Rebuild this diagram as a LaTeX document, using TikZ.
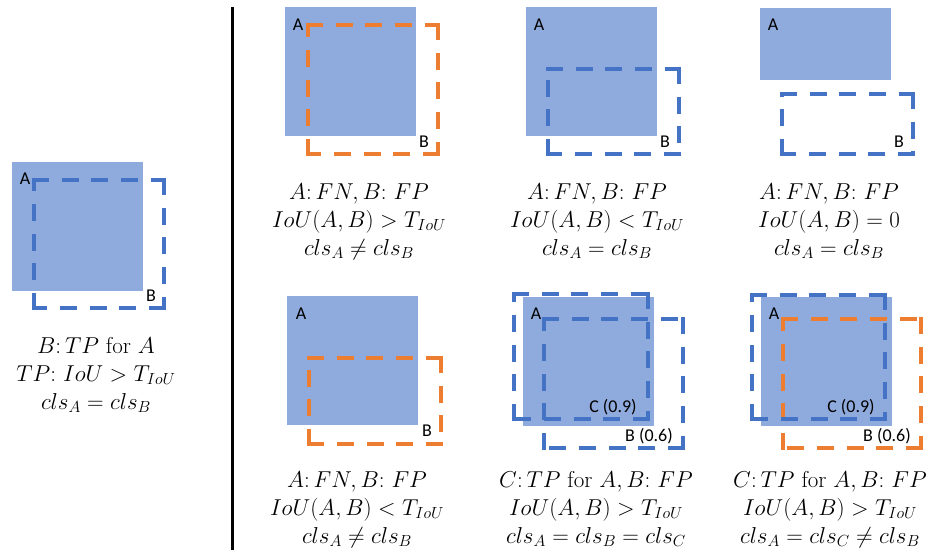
\RequirePackage{fix-cm}
\documentclass[tikz,border=0pt]{standalone}
\usepackage{fontspec}
\setsansfont{Carlito}
\definecolor{afill}{HTML}{8FAADC}
\definecolor{pblue}{HTML}{4472C4}
\definecolor{porange}{HTML}{ED7D31}
% dashed box drawn side by side, each side starting with a dash at its corner
\newcommand\obox[5]{%
  \draw[#1] ([xshift=-2.125pt]#2,#3) -- (#4,#3);
  \draw[#1] ([yshift=2.125pt]#4,#3) -- (#4,#5);
  \draw[#1] ([xshift=2.125pt]#4,#5) -- (#2,#5);
  \draw[#1] ([yshift=-2.125pt]#2,#5) -- (#2,#3);}
\begin{document}
\begin{tikzpicture}[x=1pt,y=-1pt,
 gt/.style={fill=afill},
 dbox/.style={line width=4.25pt, dash pattern=on 17pt off 12.75pt},
 predb/.style={dbox, draw=pblue},
 predo/.style={dbox, draw=porange},
 lab/.style={font=\sffamily\fontsize{18}{21}\selectfont, inner sep=0, anchor=base},
 captxt/.style={font=\fontsize{23}{27}\selectfont, inner sep=0, anchor=base}]
\useasboundingbox (0,0) rectangle (931,557);
% separator
\draw[line width=3pt] (232,7) -- (232,550);
% left panel
\fill[gt] (12,162) rectangle (143,291);
\obox{predb}{34}{180}{164}{308}
\node[lab] (lA0) at (25,184) {A};
\node[lab] (lB0) at (151,301) {B};
\node[captxt] (c0a) at (96,353) {$B{:}\,TP$ for $A$};
\node[captxt] (c0b) at (96,381) {$TP{:}\ IoU > T_{IoU}$};
\node[captxt] (c0c) at (96,409) {$cls_A = cls_B$};
% panel 1
\fill[gt] (285,7) rectangle (416,136);
\obox{predo}{308}{25}{438}{154}
\node[lab] (lA1) at (298,30) {A};
\node[lab] (lB1) at (424,147) {B};
\node[captxt] (c1a) at (359,199) {$A{:}\,FN, B{:}\ FP$};
\node[captxt] (c1b) at (359,227) {$IoU(A,B) > T_{IoU}$};
\node[captxt] (c1c) at (359,255) {$cls_A \neq cls_B$};
% panel 2
\fill[gt] (526,7) rectangle (657,136);
\obox{predb}{548}{69}{679}{154}
\node[lab] (lA2) at (539,30) {A};
\node[lab] (lB2) at (665,147) {B};
\node[captxt] (c2a) at (597,199) {$A{:}\,FN, B{:}\ FP$};
\node[captxt] (c2b) at (597,227) {$IoU(A,B) < T_{IoU}$};
\node[captxt] (c2c) at (597,255) {$cls_A = cls_B$};
% panel 3
\fill[gt] (760,8) rectangle (891,80);
\obox{predb}{782}{94}{913}{154}
\node[lab] (lA3) at (773,30) {A};
\node[lab] (lB3) at (899,147) {B};
\node[captxt] (c3a) at (829,199) {$A{:}\,FN, B{:}\ FP$};
\node[captxt] (c3b) at (829,227) {$IoU(A,B) = 0$};
\node[captxt] (c3c) at (829,255) {$cls_A = cls_B$};
% panel 4
\fill[gt] (287,296) rectangle (418,425);
\obox{predo}{309}{358}{441}{444}
\node[lab] (lA4) at (301,319) {A};
\node[lab] (lB4) at (427,436) {B};
\node[captxt] (c4a) at (357,487) {$A{:}\,FN, B{:}\ FP$};
\node[captxt] (c4b) at (357,515) {$IoU(A,B) < T_{IoU}$};
\node[captxt] (c4c) at (357,543) {$cls_A \neq cls_B$};
% panel 5
\fill[gt] (523,297) rectangle (654,426);
\obox{predb}{544}{319}{683}{448}
\obox{predb}{514}{294}{648}{419}
\node[lab] (lA5) at (536,319) {A};
\node[lab] (lC5) at (613,412) {C (0.9)};
\node[lab] (lB5) at (649,441) {B (0.6)};
\node[captxt] (c5a) at (596,487) {$C{:}\,TP$ for $A, B{:}\ FP$};
\node[captxt] (c5b) at (596,515) {$IoU(A,B) > T_{IoU}$};
\node[captxt] (c5c) at (596,543) {$cls_A = cls_B = cls_C$};
% panel 6
\fill[gt] (761,297) rectangle (892,426);
\obox{predo}{783}{319}{921}{448}
\obox{predb}{752}{295}{885}{419}
\node[lab] (lA6) at (774,319) {A};
\node[lab] (lC6) at (851,412) {C (0.9)};
\node[lab] (lB6) at (887,441) {B (0.6)};
\node[captxt] (c6a) at (830,487) {$C{:}\,TP$ for $A, B{:}\ FP$};
\node[captxt] (c6b) at (830,515) {$IoU(A,B) > T_{IoU}$};
\node[captxt] (c6c) at (830,543) {$cls_A = cls_C \neq cls_B$};
\end{tikzpicture}
\end{document}
